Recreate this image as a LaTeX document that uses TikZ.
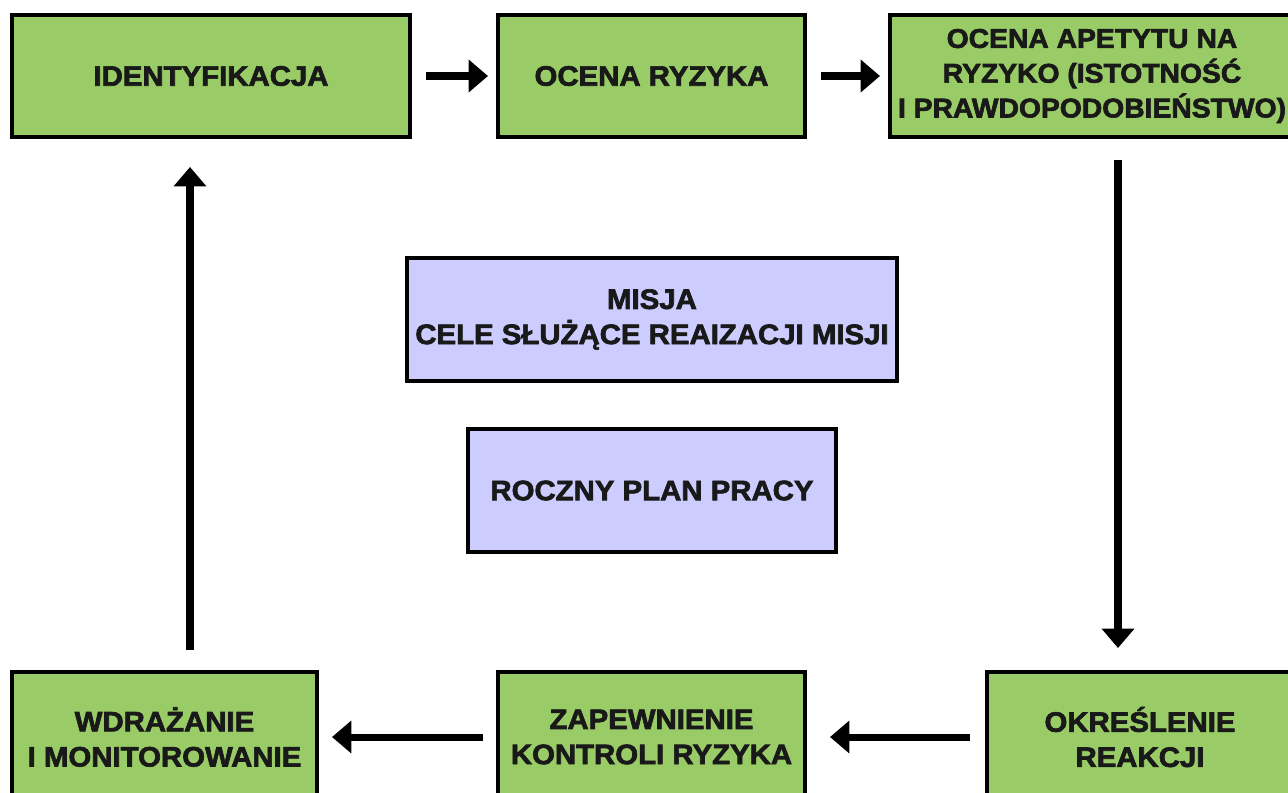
\documentclass[tikz,border=0pt]{standalone}
\usepackage{fontspec}
\setmainfont{Liberation Sans}[BoldFeatures={FakeBold=2.4,FakeStretch=1.045}]
\usepackage{tikz}
\usetikzlibrary{arrows.meta,positioning}

\definecolor{stepgreen}{RGB}{153,204,102}
\definecolor{lavender}{RGB}{204,204,255}

\tikzset{
  greenbox/.style={draw=black,line width=2.3pt,fill=stepgreen,align=center,
    font=\fontsize{16}{20}\selectfont\bfseries,text=black!90,inner sep=0pt},
  bluebox/.style={greenbox,fill=lavender},
  flow/.style={line width=4pt,-{Triangle[length=11pt,width=18pt]}}
}

\begin{document}
\begin{tikzpicture}[x=0.02cm,y=-0.02cm]
  \useasboundingbox (0,0) rectangle (1288,792);
  % top row
  \node[greenbox,minimum width=7.96cm,minimum height=2.44cm] (ident) at (211,76) {IDENTYFIKACJA};
  \node[greenbox,minimum width=6.14cm,minimum height=2.44cm] (ocena) at (651.5,76) {OCENA RYZYKA};
  \node[greenbox,minimum width=8.08cm,minimum height=2.44cm,
    font=\fontsize{15.4}{19.8}\selectfont\bfseries] (apetyt) at (1092,76)
    {OCENA APETYTU NA\\RYZYKO (ISTOTNOŚĆ\\I PRAWDOPODOBIEŃSTWO)};
  % middle
  \node[bluebox,minimum width=9.8cm,minimum height=2.46cm] (misja) at (652,319.5)
    {MISJA\\CELE SŁUŻĄCE REAIZACJI MISJI};
  \node[bluebox,minimum width=7.36cm,minimum height=2.46cm] (plan) at (652,490.5) {ROCZNY PLAN PRACY};
  % bottom row
  \node[greenbox,minimum width=6.1cm,minimum height=2.6cm] (wdr) at (164.5,737)
    {WDRAŻANIE\\I MONITOROWANIE};
  \node[greenbox,minimum width=6.14cm,minimum height=2.6cm] (zap) at (651.5,737)
    {ZAPEWNIENIE\\KONTROLI RYZYKA};
  \node[greenbox,minimum width=6.12cm,minimum height=2.6cm] (okr) at (1140,737)
    {OKREŚLENIE\\REAKCJI};

  \coordinate (down) at (1118,137);
  \coordinate (up) at (190,672);

  \draw[flow,shorten <=0.28cm,shorten >=0.16cm] (ident) -- (ocena);
  \draw[flow,shorten <=0.28cm,shorten >=0.16cm] (ocena) -- (apetyt);
  \draw[flow,shorten <=0.46cm,shorten >=0.44cm] (down) -- (down |- okr.north);
  \draw[flow,shorten <=0.3cm,shorten >=0.46cm] (okr) -- (zap);
  \draw[flow,shorten <=0.26cm,shorten >=0.26cm] (zap) -- (wdr);
  \draw[flow,shorten <=0.44cm,shorten >=0.56cm] (up) -- (up |- ident.south);
\end{tikzpicture}
\end{document}
